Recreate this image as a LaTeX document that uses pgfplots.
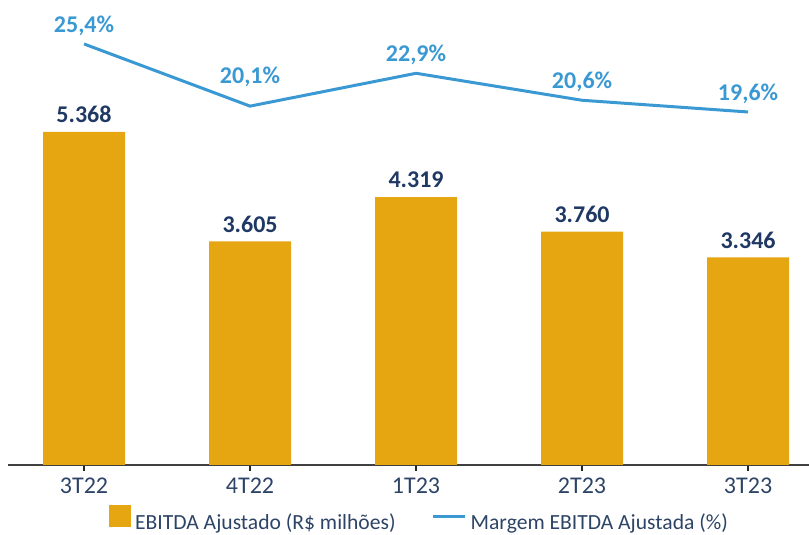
\documentclass[border=0pt]{standalone}
\usepackage{fontspec}
\setmainfont{Carlito}
\usepackage{pgfplots}
\pgfplotsset{compat=1.18}

\definecolor{barcol}{RGB}{229,166,18}
\definecolor{linecol}{RGB}{58,153,210}
\definecolor{navy}{RGB}{31,56,100}
\definecolor{tickcol}{RGB}{45,68,102}

\begin{document}
\begin{tikzpicture}
\useasboundingbox (-4pt,-35pt) rectangle (400.5pt,232.5pt);

% bars: EBITDA Ajustado
\begin{axis}[
    at={(0,0)}, anchor=south west,
    scale only axis, width=400.5pt, height=232.5pt,
    xmin=-0.458, xmax=4.367, ymin=0, ymax=7495,
    axis x line*=bottom, axis y line=none,
    x axis line style={draw=black!75, line width=1.2pt, -},
    xtick={0,1,2,3,4},
    xticklabels={3T22,4T22,1T23,2T23,3T23},
    tick align=center, major tick length=6pt,
    tick style={draw=black!85, line width=0.8pt},
    xticklabel style={font=\fontsize{12}{14}\selectfont, text=tickcol},
    legend columns=2,
    legend style={draw=none, fill=none, at={(axis description cs:0.515,0)},
        anchor=center, yshift=-28pt,
        font=\fontsize{10.8}{12}\selectfont, text=tickcol,
        /tikz/every even column/.append style={column sep=16pt}},
]
\addplot[ybar, bar width=0.494, fill=barcol, draw=none,
    nodes near coords, point meta=explicit symbolic,
    nodes near coords style={font=\bfseries\fontsize{12}{14}\selectfont, text=navy, anchor=south, yshift=1pt},
    legend image code/.code={\fill[barcol] (0pt,-2pt) rectangle (11pt,9pt);}]
coordinates {
    (0,5368) [5.368]
    (1,3605) [3.605]
    (2,4319) [4.319]
    (3,3760) [3.760]
    (4,3346) [3.346]
};
\addlegendentry{EBITDA Ajustado (R\$ milhões)}
\addlegendimage{legend image code/.code={\draw[linecol, line width=1.5pt] (0pt,3.5pt) -- (16pt,3.5pt);}}
\addlegendentry{Margem EBITDA Ajustada (\%)}
\end{axis}

% line: Margem EBITDA Ajustada
\begin{axis}[
    at={(0,0)}, anchor=south west,
    scale only axis, width=400.5pt, height=232.5pt,
    xmin=-0.458, xmax=4.367, ymin=-10.5, ymax=29.15,
    hide axis, clip=false,
]
\addplot[linecol, line width=1.5pt, mark=none,
    nodes near coords, point meta=explicit symbolic,
    nodes near coords style={font=\bfseries\fontsize{12}{14}\selectfont, text=linecol, anchor=south, yshift=0pt}]
coordinates {
    (0,25.4) [25,4\%]
    (1,20.1) []
    (2,22.9) [22,9\%]
    (3,20.6) [20,6\%]
    (4,19.6) [19,6\%]
};
\addplot[draw=none, mark=none,
    nodes near coords, point meta=explicit symbolic,
    nodes near coords style={font=\bfseries\fontsize{12}{14}\selectfont, text=linecol, anchor=south, yshift=6pt}]
coordinates {(1,20.1) [20,1\%]};
\end{axis}
\end{tikzpicture}
\end{document}
